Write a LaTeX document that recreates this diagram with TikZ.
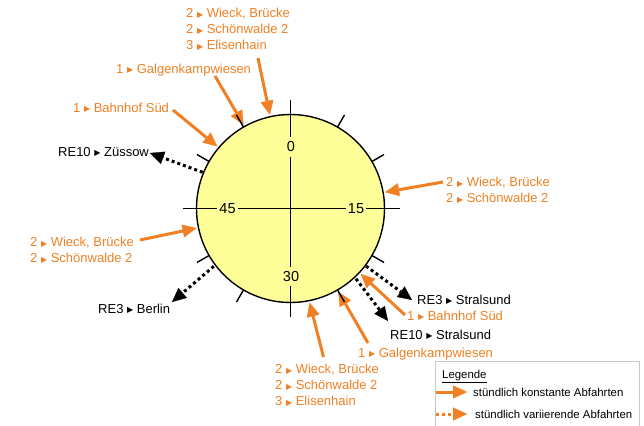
\documentclass[tikz,border=0pt]{standalone}
\usepackage{fontspec}
\setmainfont{Liberation Sans}
\newfontfamily\dvfont{DejaVu Sans}
\usetikzlibrary{arrows.meta,calc}
\definecolor{dborange}{RGB}{240,128,35}
\definecolor{dialyellow}{RGB}{255,255,153}
\newcommand\tri{{\dvfont\fontsize{8}{8}\selectfont\raisebox{0.7pt}{▶}}}
\tikzset{
  lbl/.style={font=\fontsize{13}{16}\selectfont, inner sep=0pt, align=left},
  olbl/.style={lbl, text=dborange},
  klbl/.style={lbl, text=black},
  leglbl/.style={font=\fontsize{11.4}{13}\selectfont, inner sep=0pt, anchor=base west},
  const/.style={color=dborange, line width=3pt, -{Triangle[length=14pt,width=13pt,line width=0.3pt]}},
  vary/.style={line width=3pt, dash pattern=on 3pt off 3pt, -{Triangle[length=14pt,width=13pt,line width=0.3pt]}},
  depart/.style={vary, color=black},
  axisline/.style={line width=1.5pt, black},
  ticks/.style={line width=1.4pt, black},
  dialnum/.style={font=\fontsize{14.5}{14.5}\selectfont, fill=dialyellow, inner xsep=2pt, inner ysep=4.5pt},
  legbox/.style={draw=black!22, line width=0.8pt}
}
\begin{document}
\begin{tikzpicture}[x=1pt, y=-1pt]
\useasboundingbox (0,0) rectangle (644,425);
% dial
\node[circle, draw, line width=1.4pt, fill=dialyellow, minimum size=188pt, inner sep=0pt] (dial) at (290.5,208.5) {};
\coordinate (vtop) at ($(dial.center)+(0,-108.5)$);
\coordinate (vbot) at ($(dial.center)+(0,108.5)$);
\coordinate (hl) at ($(dial.center)+(-108,0)$);
\coordinate (hr) at ($(dial.center)+(109,0)$);
\draw[axisline] (vtop) -- (vbot);
\draw[axisline] (hl) -- (hr);
\node[dialnum] (m0) at (291,147) {0};
\node[dialnum] (m15) at (356,208.5) {15};
\node[dialnum] (m30) at (291,276.5) {30};
\node[dialnum] (m45) at (227.5,208.5) {45};

% labels
\node[olbl, anchor=north west] (ltop) at (186,8.2) {2 \tri\ Wieck, Brücke\\2 \tri\ Schönwalde 2\\3 \tri\ Elisenhain};
\node[olbl, anchor=base west] (lgalg1) at (116,73.6) {1 \tri\ Galgenkampwiesen};
\node[olbl, anchor=base west] (lbhf1) at (73,112.6) {1 \tri\ Bahnhof Süd};
\node[klbl, anchor=base west] (lzue) at (58,156.6) {RE10 \tri\ Züssow};
\node[olbl, anchor=north west] (lright) at (446,177.2) {2 \tri\ Wieck, Brücke\\2 \tri\ Schönwalde 2};
\node[olbl, anchor=north west] (lleft) at (30,237.2) {2 \tri\ Wieck, Brücke\\2 \tri\ Schönwalde 2};
\node[klbl, anchor=base west] (lber) at (98,313.6) {RE3 \tri\ Berlin};
\node[klbl, anchor=base west] (lre3) at (417,304.6) {RE3 \tri\ Stralsund};
\node[olbl, anchor=base west] (lbhf2) at (407,320.6) {1 \tri\ Bahnhof Süd};
\node[klbl, anchor=base west] (lre10) at (390,339.6) {RE10 \tri\ Stralsund};
\node[olbl, anchor=base west] (lgalg2) at (358,357.6) {1 \tri\ Galgenkampwiesen};
\node[olbl, anchor=north west] (lbot) at (275,364.2) {2 \tri\ Wieck, Brücke\\2 \tri\ Schönwalde 2\\3 \tri\ Elisenhain};

% arrival arrows (constant)
\coordinate (a1s) at (258,58);    \coordinate (a1e) at ($(dial.center)+(-102.4:96)$);
\coordinate (a2s) at (215,76);    \coordinate (a2e) at ($(dial.center)+(-119.3:96)$);
\coordinate (a3s) at (173,110);   \coordinate (a3e) at ($(dial.center)+(-139.7:96)$);
\coordinate (a4s) at (443,182);   \coordinate (a4e) at ($(dial.center)+(-9.8:96)$);
\coordinate (a5s) at (140,240);   \coordinate (a5e) at ($(dial.center)+(168.2:96)$);
\coordinate (a6s) at (323.5,357); \coordinate (a6e) at ($(dial.center)+(78.5:96)$);
\coordinate (a7s) at (368,343);   \coordinate (a7e) at ($(dial.center)+(60.1:96)$);
\coordinate (a8s) at (405,315);   \coordinate (a8e) at ($(dial.center)+(43:96)$);
\foreach \i in {1,...,8} \draw[const] (a\i s) -- (a\i e);

% departures (varying)
\coordinate (d1s) at ($(dial.center)+(-157.6:95)$); \coordinate (d1e) at (150,153);
\coordinate (d2s) at ($(dial.center)+(143:96)$);    \coordinate (d2e) at (172,302);
\coordinate (d3s) at ($(dial.center)+(37.3:95)$);   \coordinate (d3e) at (412,300);
\coordinate (d4s) at ($(dial.center)+(47:96)$);     \coordinate (d4e) at (388,321);
\foreach \i in {1,...,4} \draw[depart] (d\i s) -- (d\i e);

% ticks every 5 minutes
\foreach \m in {5,10,20,25,35,40,50,55}
  \draw[ticks] ($(dial.center)+({6*\m-90}:94)$) -- ($(dial.center)+({6*\m-90}:108)$);

% legend
\coordinate (lgA) at (435,361);
\coordinate (lgB) at (639,432);
\draw[legbox] (lgA) rectangle (lgB);
\node[leglbl] (legt) at (442,378) {\underline{Legende}};
\coordinate (k1s) at (436,392); \coordinate (k1e) at (467,392);
\coordinate (k2s) at (436,414); \coordinate (k2e) at (467,414);
\draw[const] (k1s) -- (k1e);
\draw[vary, color=dborange] (k2s) -- (k2e);
\node[leglbl] (legc) at (473,396.2) {stündlich konstante Abfahrten};
\node[leglbl] (legv) at (475,418.2) {stündlich variierende Abfahrten};
\end{tikzpicture}
\end{document}
